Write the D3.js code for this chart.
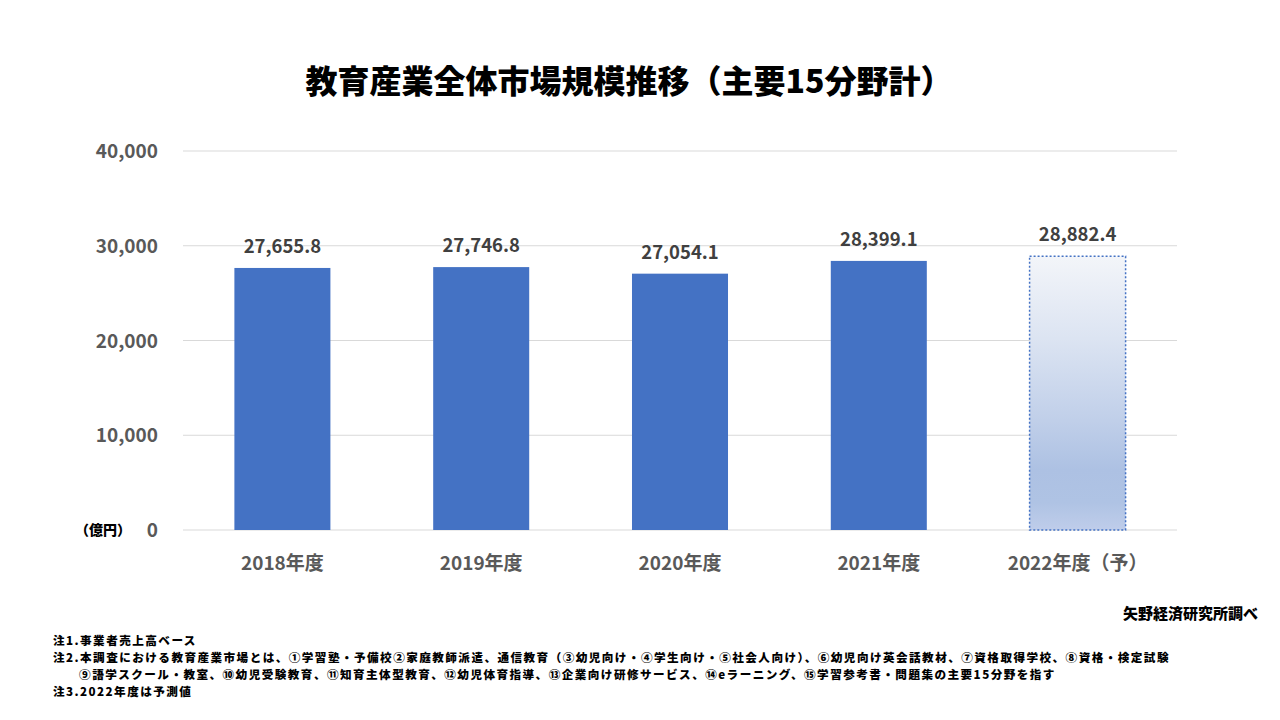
<!DOCTYPE html>
<html><head><meta charset="utf-8">
<script src="https://cdn.jsdelivr.net/npm/d3@7"></script>
<style>body{margin:0;background:#fff;} svg{display:block;font-family:"Noto Sans CJK JP","Noto Sans",sans-serif;}</style>
</head><body>
<svg id="c" width="1280" height="720"></svg>
<script>
const categories = ["2018年度","2019年度","2020年度","2021年度","2022年度（予）"];
const values = [27655.8, 27746.8, 27054.1, 28399.1, 28882.4];
const forecast = [false,false,false,false,true];
const yTicks = [0,10000,20000,30000,40000];
const title = "教育産業全体市場規模推移（主要15分野計）";
const unitLabel = "（億円）";
const source = "矢野経済研究所調べ";
const notes = [
  "注1.事業者売上高ベース",
  "注2.本調査における教育産業市場とは、①学習塾・予備校②家庭教師派遣、通信教育（③幼児向け・④学生向け・⑤社会人向け）、⑥幼児向け英会話教材、⑦資格取得学校、⑧資格・検定試験",
  "　　⑨語学スクール・教室、⑩幼児受験教育、⑪知育主体型教育、⑫幼児体育指導、⑬企業向け研修サービス、⑭eラーニング、⑮学習参考書・問題集の主要15分野を指す",
  "注3.2022年度は予測値"
];

const svg = d3.select("#c");
const pLeft = 183, pRight = 1177, pTop = 151, pBottom = 530;
const x = d3.scaleBand().domain(categories).range([pLeft, pRight]).padding(0);
const y = d3.scaleLinear().domain([0, 40000]).range([pBottom, pTop]);
const barW = x.bandwidth() * 0.483;

const defs = svg.append("defs");
const g = defs.append("linearGradient").attr("id","fg").attr("x1",0).attr("y1",0).attr("x2",0).attr("y2",1);
[[0,"#f3f5f9"],[0.3,"#dce4f2"],[0.6,"#c0cfe9"],[0.78,"#adc1e3"],[0.9,"#afc3e4"],[1,"#bfcdea"]].forEach(s=>g.append("stop").attr("offset",s[0]).attr("stop-color",s[1]));

svg.append("text").attr("x",629).attr("y",93).attr("text-anchor","middle")
  .attr("font-size",32).attr("font-weight",900).attr("fill","#000").text(title);

// grid
svg.append("g").selectAll("line").data(yTicks).join("line")
  .attr("x1",pLeft).attr("x2",pRight).attr("y1",d=>y(d)).attr("y2",d=>y(d))
  .attr("stroke","#d9d9d9").attr("stroke-width",1);

// y labels
svg.append("g").selectAll("text").data(yTicks).join("text")
  .attr("x",158).attr("y",d=>y(d)+7).attr("text-anchor","end")
  .attr("font-size",19).attr("font-weight","bold").attr("fill","#595959")
  .text(d=>d3.format(",")(d));
svg.append("text").attr("x",131).attr("y",535).attr("text-anchor","end")
  .attr("font-size",14).attr("font-weight",900).attr("fill","#000").text(unitLabel);

// bars
const bars = categories.map((c,i)=>({c,v:values[i],f:forecast[i]}));
svg.append("g").selectAll("rect").data(bars).join("rect")
  .attr("x",d=>x(d.c)+x.bandwidth()/2-barW/2).attr("width",barW)
  .attr("y",d=>y(d.v)).attr("height",d=>pBottom-y(d.v))
  .attr("fill",d=>d.f?"url(#fg)":"#4472c4")
  .attr("stroke",d=>d.f?"#4472c4":"none").attr("stroke-width",d=>d.f?1.5:0)
  .attr("stroke-dasharray",d=>d.f?"2,2":null);

// value labels
svg.append("g").selectAll("text").data(bars).join("text")
  .attr("x",d=>x(d.c)+x.bandwidth()/2).attr("y",d=>y(d.v)-15)
  .attr("text-anchor","middle").attr("font-size",18.5).attr("font-weight","bold").attr("fill","#404040")
  .text(d=>d3.format(",.1f")(d.v));

// x labels
svg.append("g").selectAll("text").data(categories).join("text")
  .attr("x",d=>x(d)+x.bandwidth()/2).attr("y",570).attr("text-anchor","middle")
  .attr("font-size",19).attr("font-weight","bold").attr("fill","#595959").text(d=>d);

svg.append("text").attr("x",1258).attr("y",619).attr("text-anchor","end")
  .attr("font-size",15).attr("font-weight",900).attr("fill","#000").text(source);

svg.append("g").selectAll("text").data(notes).join("text")
  .attr("x",53).attr("y",(d,i)=>644.5+i*17).attr("font-size",11.6).attr("letter-spacing",1.45)
  .attr("font-weight",900).attr("fill","#000")
  .attr("xml:space","preserve").text(d=>d);
</script>
</body></html>
